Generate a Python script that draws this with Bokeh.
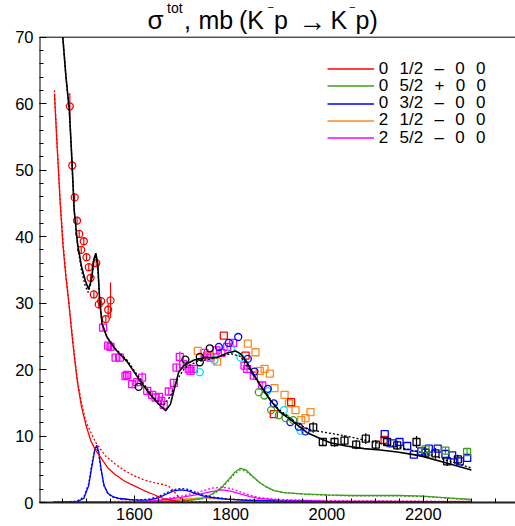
from bokeh.plotting import figure
from bokeh.models import Range1d, FixedTicker, Label, Legend, LegendItem
from bokeh.embed import file_html
from bokeh.resources import INLINE

# ---------------- data ----------------
# total cross section, fit 1 (solid) and fit 2 (dashed)
tot_x = [1451.4, 1458, 1465, 1470, 1475, 1482, 1490, 1498, 1505, 1511, 1516, 1520, 1524,
         1528, 1533, 1543, 1560, 1585, 1612, 1633, 1648, 1665, 1675, 1682, 1692, 1703, 1723,
         1744, 1772, 1793, 1810, 1820, 1831, 1845, 1862, 1883, 1903, 1931, 1959, 1987, 2007,
         2040, 2077, 2111, 2146, 2180, 2201, 2250, 2300]
tot_y = [70, 64, 59, 52, 44, 39, 35.6, 33.4, 32.1, 33.6, 36.6, 37.5, 35.9,
         30.4, 26.9, 24.9, 23.1, 21.2, 18.3, 16.2, 15.0, 13.8, 14.8, 16.8, 19.6, 20.6, 21.4,
         21.8, 21.8, 22.5, 22.8, 22.4, 21.4, 19.6, 17.6, 15.3, 13.6, 12.1, 10.5, 9.6, 9.0,
         8.5, 8.1, 7.9, 7.6, 7.2, 6.9, 5.9, 4.9]
tot2_x = [1451.4, 1458, 1465, 1470, 1475, 1482, 1490, 1498, 1504, 1511, 1516, 1520, 1524,
          1528, 1533, 1543, 1560, 1585, 1612, 1640, 1660, 1675, 1690, 1705, 1730, 1760, 1800,
          1820, 1845, 1870, 1900, 1930, 1960, 2000, 2040, 2077, 2110, 2150, 2180, 2220, 2250, 2300]
tot2_y = [70, 64, 59, 52, 44, 38.6, 35.0, 32.6, 31.6, 33.2, 36.3, 37.2, 35.6,
          30.2, 26.8, 24.9, 23.2, 21.4, 18.6, 15.8, 14.6, 16.0, 18.6, 20.3, 21.2, 21.6, 22.4,
          22.0, 19.4, 16.6, 14.0, 12.3, 11.0, 10.5, 10.0, 9.4, 8.9, 8.3, 7.8, 7.1, 6.3, 5.2]

# partial waves: I  J^P  (solid = fit 1, dashed = fit 2)
red_x = [1434, 1440, 1446, 1452, 1458, 1464, 1470, 1476, 1482, 1490, 1500, 1510, 1520, 1530,
         1545, 1560, 1580, 1600, 1620, 1640, 1660, 1680, 1700, 1800, 2000, 2300]
red_y = [61.5, 53, 45, 38.5, 33.8, 30.0, 25.5, 21.5, 18.0, 14.5, 11.5, 9.2, 7.8, 6.8,
         5.2, 4.2, 3.2, 2.5, 1.8, 1.2, 0.6, 0.3, 0.1, 0.05, 0.03, 0.03]
red2_x = [1434, 1440, 1446, 1452, 1458, 1464, 1470, 1476, 1482, 1490, 1500, 1520, 1540, 1560,
          1580, 1600, 1620, 1640, 1660, 1670, 1680, 1690, 1700, 1720, 1800, 2000, 2300]
red2_y = [62, 53.5, 45.5, 39, 34.2, 30.2, 26, 22, 18.3, 15, 12.0, 9.0, 7.0, 5.8,
          4.8, 4.0, 3.4, 3.0, 2.7, 2.5, 1.9, 1.0, 0.4, 0.15, 0.05, 0.03, 0.03]

blue_x = [1432, 1480, 1495, 1505, 1512, 1518, 1522, 1526, 1531, 1537, 1545, 1555, 1570, 1590,
          1610, 1630, 1650, 1665, 1680, 1695, 1710, 1725, 1740, 1760, 1790, 1830, 1900, 2000, 2300]
blue_y = [0.0, 0.1, 0.6, 2.5, 5.5, 8.0, 8.6, 7.6, 5.0, 2.6, 1.4, 0.9, 0.6, 0.45,
          0.35, 0.4, 0.7, 1.2, 1.7, 1.9, 1.8, 1.4, 1.05, 0.75, 0.5, 0.35, 0.2, 0.12, 0.05]
blue2_y = [0.0, 0.2, 0.8, 2.8, 6.0, 7.9, 8.2, 7.2, 4.8, 2.5, 1.3, 0.8, 0.5, 0.42,
           0.4, 0.5, 0.9, 1.4, 1.9, 2.1, 2.0, 1.6, 1.2, 0.85, 0.55, 0.35, 0.2, 0.12, 0.05]

green_x = [1432, 1650, 1700, 1740, 1760, 1780, 1795, 1808, 1820, 1832, 1845, 1860, 1875, 1890,
           1910, 1950, 2000, 2050, 2100, 2150, 2200, 2250, 2300]
green_y = [0.0, 0.05, 0.2, 0.6, 1.2, 2.2, 3.4, 4.5, 5.15, 4.9, 4.0, 3.0, 2.3, 1.8,
           1.5, 1.3, 1.15, 1.05, 1.05, 1.05, 0.95, 0.7, 0.45]
green2_y = [0.0, 0.05, 0.2, 0.55, 1.1, 2.0, 3.2, 4.3, 4.9, 4.7, 3.9, 3.0, 2.3, 1.8,
            1.5, 1.25, 1.1, 1.0, 1.0, 1.0, 0.9, 0.65, 0.4]

orange_x = [1432, 1550, 1600, 1650, 1700, 1730, 1750, 1780, 1820, 1880, 2000, 2300]
orange_y = [0.0, 0.02, 0.05, 0.15, 0.45, 0.65, 0.7, 0.6, 0.4, 0.25, 0.15, 0.08]
orange2_y = [0.1, 0.15, 0.25, 0.4, 0.55, 0.6, 0.58, 0.5, 0.4, 0.32, 0.25, 0.15]

mag_x = [1432, 1600, 1650, 1700, 1730, 1760, 1782, 1800, 1820, 1840, 1860, 1900, 2000, 2300]
mag_y = [0.0, 0.05, 0.3, 0.8, 1.2, 1.65, 1.9, 1.7, 1.3, 0.9, 0.6, 0.35, 0.2, 0.1]
mag2_y = [0.0, 0.08, 0.35, 1.0, 1.5, 2.15, 2.3, 2.1, 1.6, 1.1, 0.75, 0.45, 0.28, 0.15]

# measurements
rc_x = [1466, 1471, 1476, 1481, 1485.5, 1489.6, 1495, 1500.6, 1505.4, 1509, 1515.8, 1520.8,
        1526, 1531, 1540.7, 1545.6, 1550.5]
rc_y = [59.6, 50.7, 45.9, 42.4, 40.4, 38.0, 39.3, 36.9, 35.4, 33.8, 31.3, 36.0,
        29.8, 30.3, 27.6, 29.0, 30.4]
rc_e = [2.0, 0.8, 0.6, 0.6, 0.6, 0.6, 0.6, 0.6, 0.6, 0.6, 0.6, 0.6,
        0.6, 0.6, 0.6, 1.0, 2.7]

ms_x = [1535, 1545.6, 1550.5, 1561, 1570, 1581.6, 1585, 1595.5, 1606, 1616, 1626.7, 1637,
        1644, 1651, 1656, 1661, 1671.5, 1682, 1687.5, 1694.4, 1701.4, 1713, 1716.6, 1723.5,
        1745.7, 1751, 1758, 1770.6, 1781, 1792.8, 1805, 1828.8, 1834, 1848, 1865.5]
ms_y = [26.3, 23.6, 23.4, 21.8, 21.8, 19.0, 19.2, 17.8, 18.1, 18.8, 16.8, 16.2,
        15.8, 15.9, 15.3, 14.7, 16.7, 18.0, 20.3, 21.9, 20.8, 20.1, 19.8, 20.1,
        22.5, 22.1, 21.8, 22.9, 22.5, 23.4, 24.0, 20.6, 20.1, 19.1, 17.6]
ms_e = [0.5, 0.6, 0.6, 0.5, 0.5, 0.5, 0.5, 0.6, 0.6, 0.8, 0.5, 0.5,
        0.5, 0.5, 0.5, 0.5, 0.6, 0.6, 0.6, 0.8, 0.6, 0.6, 0.6, 0.6,
        0.6, 0.6, 0.6, 0.6, 0.6, 0.6, 0.6, 0.6, 0.6, 0.6, 0.6]

bc_x = [1609, 1706, 1736, 1736, 1756.7]
bc_y = [17.4, 21.5, 21.9, 21.1, 23.2]

cc_x = [1736, 1766.4, 1801, 1820.5, 1876, 1910.5, 1945]
cc_y = [19.6, 21.4, 23.1, 21.8, 16.8, 13.9, 10.8]

bl_x = [1775.6, 1796, 1815.7, 1835.6, 1849.5, 1877, 1889.6, 1924, 1941.5, 1955.5]
bl_y = [23.4, 24.0, 24.9, 21.6, 19.7, 17.1, 14.9, 12.1, 11.4, 10.7]

os_x = [1731.8, 1754.6, 1772, 1835.6, 1851.6, 1860.6, 1870.3, 1881.4, 1891, 1912, 1921,
        1934.7, 1946.5, 1955.5, 1965.8]
os_y = [22.8, 22.1, 21.2, 23.9, 22.6, 19.8, 20.1, 19.4, 17.2, 16.2, 14.9,
        13.9, 12.4, 12.7, 13.6]

rs_x = [1785.8, 1831, 1889.6, 1925.6, 2119.5]
rs_y = [25.1, 22.1, 13.3, 15.1, 9.4]

gc_x = [1858.5, 1870, 1884, 1900, 1914, 1930]
gc_y = [16.6, 16.1, 13.9, 13.1, 12.7, 12.4]

ks_x = [1971.4, 1991.4, 2015.7, 2036.4, 2060.7, 2080.6, 2101.4, 2125, 2146, 2186, 2204.7,
        2225.4, 2249.7, 2271.8]
ks_y = [11.3, 9.1, 9.1, 9.3, 8.7, 9.6, 8.7, 9.1, 8.6, 9.1, 7.5,
        7.4, 6.2, 6.5]
ks_e = [0.8, 0.6, 0.7, 0.8, 0.7, 0.8, 0.7, 0.8, 0.7, 0.9, 0.8,
        0.8, 0.7, 0.7]

bs_x = [2120, 2135.5, 2150.7, 2166.6, 2180.4, 2196, 2211.5, 2230, 2246, 2260, 2276, 2291.3]
bs_y = [10.3, 8.9, 9.1, 8.5, 7.2, 7.7, 8.1, 8.1, 7.3, 7.1, 6.2, 6.7]

gs_x = [2204.7, 2246, 2291]
gs_y = [8.0, 7.8, 7.6]
gs_e = [0.5, 0.5, 0.6]

leg_I = ["0", "0", "0", "2", "2"]
leg_J = ["1/2", "5/2", "3/2", "1/2", "5/2"]
leg_P = ["\u2013", "+", "\u2013", "\u2013", "\u2013"]
leg_rest = ["0", "0", "0", "0", "0"]

x_ticks = [1600, 1800, 2000, 2200]
y_ticks = [0, 10, 20, 30, 40, 50, 60, 70]
Y_TOP = 70.0

# ---------------- colours ----------------
RED = "#ff0000"
GREEN = "#3c9f1e"
BLUE = "#0000ff"
ORANGE = "#ff8a1e"
MAGENTA = "#ff00ff"
CYAN = "#00e5ff"
FONT = "Liberation Sans"

# ---------------- geometry ----------------
# the frame spans the full canvas height above the x axis, so that the
# title (drawn as labels) sits inside it; the visible box stops at 70 mb.
W, H = 515, 526
FL, FB = 39, 24
FRAME_TOP_PX = 36.7               # pixel row of the 70 mb line
X0 = 1403.0
PXU = 0.4815                      # pixels per MeV
X1 = X0 + (W - FL) / PXU
PYU = (H - FB - FRAME_TOP_PX) / Y_TOP
Y1 = (H - FB) / PYU


def dx(px):
    return X0 + (px - FL) / PXU


def dy(py):
    return (H - FB - py) / PYU


p = figure(width=W, height=H, x_range=Range1d(X0, X1), y_range=Range1d(0, Y1),
           title=None, output_backend="svg", toolbar_location=None,
           min_border_left=FL, min_border_right=0, min_border_top=0, min_border_bottom=FB)
p.xgrid.visible = False
p.ygrid.visible = False
p.outline_line_color = None
p.background_fill_color = "white"
p.border_fill_color = "white"

p.xaxis.ticker = FixedTicker(ticks=x_ticks, minor_ticks=list(range(1400, 2401, 50)))
p.yaxis.ticker = FixedTicker(ticks=y_ticks, minor_ticks=list(range(0, 71, 2)))
for ax in (p.xaxis[0], p.yaxis[0]):
    ax.major_tick_in = 7
    ax.major_tick_out = 0
    ax.minor_tick_in = 4
    ax.minor_tick_out = 0
    ax.major_tick_line_color = "black"
    ax.minor_tick_line_color = "black"
    ax.major_label_text_font = FONT
    ax.major_label_text_font_size = "16.5px"
    ax.major_label_text_color = "black"
p.xaxis.axis_line_width = 2
p.xaxis.axis_line_color = "#222222"
p.yaxis.axis_line_color = None
p.xaxis.major_label_standoff = 5
p.yaxis.major_label_standoff = 6

# frame: left axis line up to 70 (half clipped -> 1 px) and top line at 70
p.segment(x0=[X0], y0=[0], x1=[X0], y1=[Y_TOP], line_color="black", line_width=2)
p.segment(x0=[X0], y0=[Y_TOP], x1=[X1], y1=[Y_TOP], line_color="black", line_width=1)

# ---------------- data points ----------------
def errbars(xs, ys, es, color):
    p.segment(x0=xs, y0=[y - e for y, e in zip(ys, es)], x1=xs,
              y1=[y + e for y, e in zip(ys, es)], line_color=color, line_width=1.2)


errbars(rc_x, rc_y, rc_e, RED)
errbars(ms_x, ms_y, ms_e, MAGENTA)
errbars(ks_x, ks_y, ks_e, "black")
errbars(gs_x, gs_y, gs_e, GREEN)

mk = dict(size=7, fill_color=None, line_width=1.3)
p.scatter(ms_x, ms_y, marker="square", line_color=MAGENTA, **mk)
p.scatter(os_x, os_y, marker="square", line_color=ORANGE, **mk)
p.scatter(rs_x, rs_y, marker="square", line_color=RED, **mk)
p.scatter(ks_x, ks_y, marker="square", line_color="black", **mk)
p.scatter(bs_x, bs_y, marker="square", line_color=BLUE, **mk)
p.scatter(gs_x, gs_y, marker="square", line_color=GREEN, **mk)
p.scatter(rc_x, rc_y, marker="circle", line_color=RED, **mk)
p.scatter(bc_x, bc_y, marker="circle", line_color="black", **mk)
p.scatter(cc_x, cc_y, marker="circle", line_color=CYAN, **mk)
p.scatter(bl_x, bl_y, marker="circle", line_color=BLUE, **mk)
p.scatter(gc_x, gc_y, marker="circle", line_color=GREEN, **mk)

# ---------------- curves ----------------
DOT = "2 2"
p.line(orange_x, orange2_y, line_color=ORANGE, line_width=1.3, line_dash=DOT)
r_orange = p.line(orange_x, orange_y, line_color=ORANGE, line_width=1.3)
p.line(mag_x, mag2_y, line_color=MAGENTA, line_width=1.3, line_dash=DOT)
r_mag = p.line(mag_x, mag_y, line_color=MAGENTA, line_width=1.3)
p.line(green_x, green2_y, line_color=GREEN, line_width=1.3, line_dash=DOT)
r_green = p.line(green_x, green_y, line_color=GREEN, line_width=1.3)
p.line(blue_x, blue2_y, line_color=BLUE, line_width=1.3, line_dash=DOT)
r_blue = p.line(blue_x, blue_y, line_color=BLUE, line_width=1.3)
p.line(red2_x, red2_y, line_color=RED, line_width=1.3, line_dash=DOT)
r_red = p.line(red_x, red_y, line_color=RED, line_width=1.3)
p.line(tot2_x, tot2_y, line_color="black", line_width=1.3, line_dash=DOT)
p.line(tot_x, tot_y, line_color="black", line_width=1.6)

# ---------------- legend (one row per legend) ----------------
SEP = "\u2002\u2006"
rends = [r_red, r_green, r_blue, r_orange, r_mag]
for i, r in enumerate(rends):
    lab = SEP.join([leg_I[i], leg_J[i], leg_P[i], leg_rest[i], leg_rest[i]])
    row_c = 70 + 17.25 * i
    lg = Legend(items=[LegendItem(label=lab, renderers=[r])],
                location=(326.7 - FL, H - FB - (row_c + 8.5)),
                glyph_width=47, glyph_height=17, label_height=17, label_standoff=5,
                padding=0, margin=0, spacing=0,
                border_line_alpha=0, background_fill_alpha=0,
                label_text_font=FONT, label_text_font_size="17px",
                label_text_color="black")
    p.add_layout(lg)

# ---------------- title ----------------
def tlabel(txt, px, py, size, align="left"):
    p.add_layout(Label(x=dx(px), y=dy(py), text=txt,
                       text_font=FONT, text_font_size=size, text_align=align,
                       text_baseline="alphabetic", text_color="black"))


BASE = 19
tlabel("\u03c3", 147, BASE, "26px")
tlabel("tot", 166.5, 7.5, "14px")
tlabel(",", 183.5, BASE, "25px")
tlabel("mb", 198, BASE, "25px")
tlabel("(K", 238.5, BASE, "25px")
tlabel("\u2212", 267, 6.5, "11px")
tlabel("p", 273.5, BASE, "25px")
tlabel("\u2192", 311.7, 21, "28px", align="center")
tlabel("K", 330, BASE, "25px")
tlabel("\u2212", 348.5, 6.5, "11px")
tlabel("p)", 355, BASE, "25px")

open("out.html", "w").write(file_html(p, INLINE))
